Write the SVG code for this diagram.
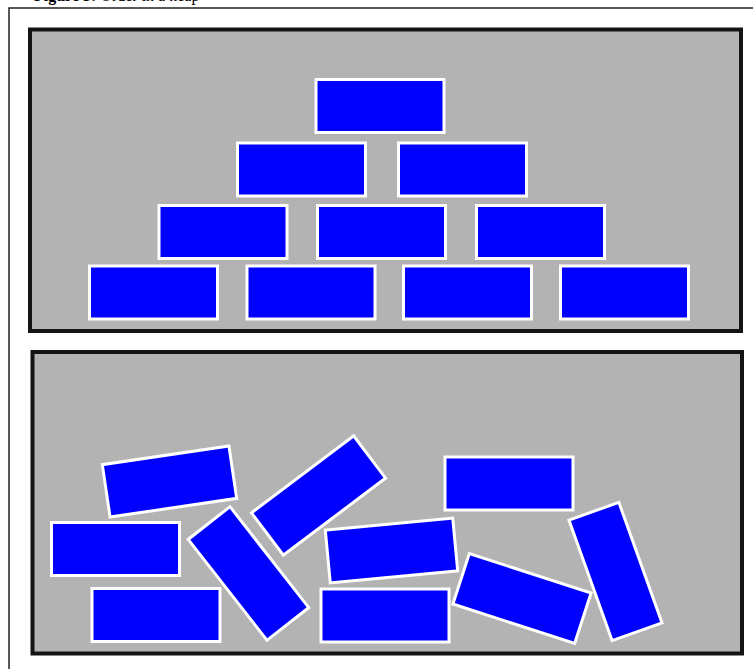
<svg xmlns="http://www.w3.org/2000/svg" width="753" height="669" viewBox="0 0 753 669">
<style>
.frame{fill:none;stroke:#222;stroke-width:1.5}
.panel{fill:#b3b3b3;stroke:#141414;stroke-width:4}
.brick{fill:#0000ff;stroke:#ffffff;stroke-width:3}
.cap{font-family:"Liberation Serif",serif;font-size:16px;fill:#000}
</style>
<defs>
<rect id="b" class="brick" x="-64" y="-26.5" width="128" height="53"/>
</defs>
<rect width="753" height="669" fill="#ffffff"/>
<text class="cap" x="34" y="0.5"><tspan font-weight="bold">Figure 3:</tspan> Order in a heap</text>
<rect class="frame" x="9" y="8" width="800" height="700"/>
<g id="panel-top">
<rect class="panel" x="30" y="29.5" width="711" height="301.5"/>
<g id="t1"><use href="#b" transform="translate(380,106)"/></g>
<g id="t2"><use href="#b" transform="translate(301.5,169.5)"/></g>
<g id="t3"><use href="#b" transform="translate(462.5,169.5)"/></g>
<g id="t4"><use href="#b" transform="translate(223,232)"/></g>
<g id="t5"><use href="#b" transform="translate(381.5,232)"/></g>
<g id="t6"><use href="#b" transform="translate(540.5,232)"/></g>
<g id="t7"><use href="#b" transform="translate(153.5,292.5)"/></g>
<g id="t8"><use href="#b" transform="translate(311,292.5)"/></g>
<g id="t9"><use href="#b" transform="translate(467.5,292.5)"/></g>
<g id="t10"><use href="#b" transform="translate(624.5,292.5)"/></g>
</g>
<g id="panel-bottom">
<rect class="panel" x="32.5" y="352" width="709.5" height="301.5"/>
<g id="d1"><use href="#b" transform="translate(169.5,481.5) rotate(-8.4)"/></g>
<g id="d2"><use href="#b" transform="translate(115.5,549)"/></g>
<g id="d3"><use href="#b" transform="translate(156,615)"/></g>
<g id="d4"><use href="#b" transform="translate(248.5,573.5) rotate(52)"/></g>
<g id="d5"><use href="#b" transform="translate(318.5,495.5) rotate(-37)"/></g>
<g id="d6"><use href="#b" transform="translate(509,483.5)"/></g>
<g id="d7"><use href="#b" transform="translate(391.5,550.5) rotate(-5.4)"/></g>
<g id="d8"><use href="#b" transform="translate(385,615.5)"/></g>
<g id="d9"><use href="#b" transform="translate(522,598.5) rotate(18)"/></g>
<g id="d10"><use href="#b" transform="translate(615.5,571.5) rotate(70.3)"/></g>
</g>
</svg>
